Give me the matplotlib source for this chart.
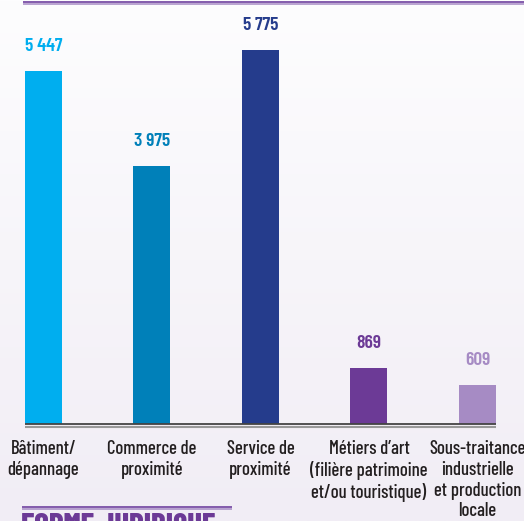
import numpy as np
import matplotlib
matplotlib.use("Agg")
import matplotlib.pyplot as plt
from matplotlib.colors import LinearSegmentedColormap

categories = ["Bâtiment/\ndépannage", "Commerce de\nproximité", "Service de\nproximité",
              "Métiers d’art\n(filière patrimoine\net/ou touristique)",
              "Sous-traitance\nindustrielle\net production\nlocale"]
values = [5447, 3975, 5775, 869, 609]
value_labels = ["5 447", "3 975", "5 775", "869", "609"]
colors = ["#00aeef", "#0080b9", "#253c8c", "#6c3a96", "#a68bc4"]

FONT = ["Barlow Condensed", "DejaVu Sans"]
FONT_NUM = ["Barlow Condensed", "DejaVu Sans"]

W, H = 524, 521
fig = plt.figure(figsize=(W / 100, H / 100), dpi=100)

# background gradient
bg = fig.add_axes([0, 0, 1, 1], zorder=-10)
cmap = LinearSegmentedColormap.from_list("bg", ["#fdfdfe", "#f1edf5"])
bg.imshow(np.linspace(0, 1, 256).reshape(-1, 1), aspect="auto", cmap=cmap,
          extent=[0, 1, 0, 1], origin="upper")
bg.set_axis_off()

# decorative purple lines
over = fig.add_axes([0, 0, 1, 1], zorder=5)
over.set_xlim(0, W)
over.set_ylim(H, 0)
over.set_axis_off()
over.patch.set_alpha(0)
over.plot([23, 524], [1.5, 1.5], color="#7a4fa6", lw=1.3, solid_capstyle="butt")
over.plot([23, 524], [3.8, 3.8], color="#a68bc4", lw=1.1, solid_capstyle="butt")
over.plot([22, 232], [506.5, 506.5], color="#7a4fa6", lw=1.3, solid_capstyle="butt")
over.plot([22, 232], [508.8, 508.8], color="#a68bc4", lw=1.1, solid_capstyle="butt")
over.text(21, 513, "FORME JURIDIQUE", color="#6c3a96", fontsize=22, fontweight="heavy",
          family=FONT, va="top", ha="left")

# main axes: baseline at y=424 px from top
base_px = 424
scale = 0.0648  # px per unit
ymax_units = base_px / scale
ax = fig.add_axes([0, (H - base_px) / H, 1, base_px / H])
ax.patch.set_alpha(0)
x = np.arange(len(values))
ax.set_xlim(-43.5 / 108.5, (W - 43.5) / 108.5)
ax.set_ylim(0, ymax_units)
ax.bar(x, values, width=37 / 108.5, color=colors, zorder=3)
ax.set_axis_off()

# baseline double line
ax.plot([-0.17, 4.17], [0, 0], color="#444444", lw=1.3, zorder=4, clip_on=False,
        solid_capstyle="butt")
ax.plot([-0.17, 4.17], [-2.5 / scale, -2.5 / scale], color="#999999", lw=1.5, zorder=4,
        clip_on=False, solid_capstyle="butt")

for xi, v, lab, c in zip(x, values, value_labels, colors):
    ax.text(xi, v + 16 / scale, lab, ha="center", va="bottom", color=c, fontsize=14,
            fontweight="semibold", family=FONT_NUM)

for xi, cat in zip(x, categories):
    ha = "center"
    xp = xi
    ax.text(xp, -16 / scale, cat, ha=ha, va="top", color="#231f20", fontsize=13.5,
            linespacing=1.2, family=FONT, fontweight="medium", clip_on=False)

fig.savefig("out.png", dpi=100)
